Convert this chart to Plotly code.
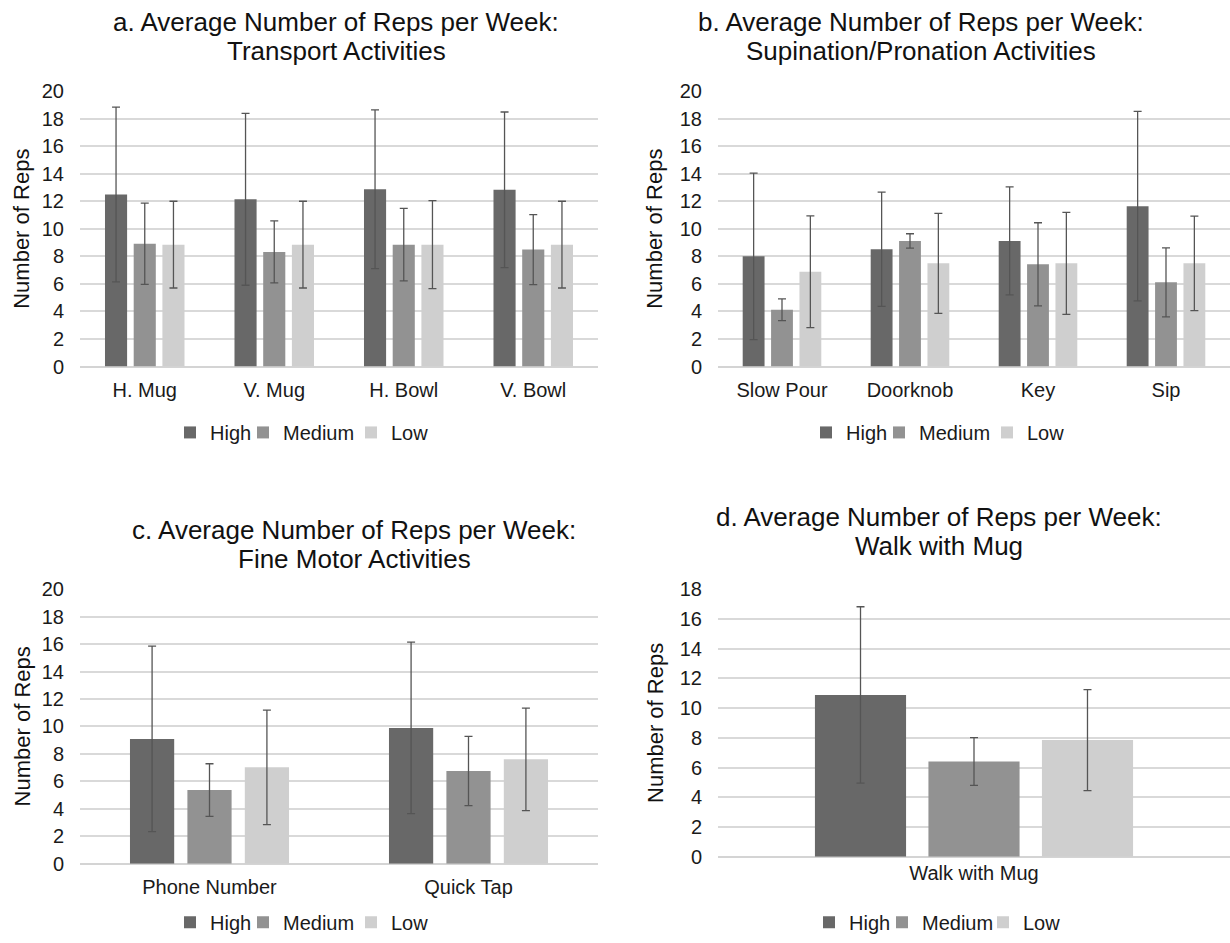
import plotly.graph_objects as go

# ---------------- data ----------------
series = ["High", "Medium", "Low"]
colors = ["#686868", "#929292", "#cfcfcf"]

cat_a = ["H. Mug", "V. Mug", "H. Bowl", "V. Bowl"]
high_a = [12.49, 12.14, 12.87, 12.83]
high_a_err = [6.35, 6.24, 5.76, 5.65]
med_a = [8.92, 8.32, 8.85, 8.49]
med_a_err = [2.95, 2.25, 2.63, 2.54]
low_a = [8.85, 8.85, 8.85, 8.85]
low_a_err = [3.15, 3.15, 3.2, 3.15]

cat_b = ["Slow Pour", "Doorknob", "Key", "Sip"]
high_b = [8.0, 8.51, 9.12, 11.64]
high_b_err = [6.05, 4.15, 3.92, 6.88]
med_b = [4.12, 9.12, 7.42, 6.11]
med_b_err = [0.79, 0.52, 3.02, 2.51]
low_b = [6.88, 7.49, 7.49, 7.49]
low_b_err = [4.06, 3.63, 3.71, 3.43]

cat_c = ["Phone Number", "Quick Tap"]
high_c = [9.09, 9.89]
high_c_err = [6.76, 6.25]
med_c = [5.36, 6.75]
med_c_err = [1.92, 2.52]
low_c = [7.02, 7.6]
low_c_err = [4.17, 3.73]

cat_d = ["Walk with Mug"]
high_d = [10.89]
high_d_err = [5.93]
med_d = [6.41]
med_d_err = [1.61]
low_d = [7.85]
low_d_err = [3.4]

title_a = ["a. Average Number of Reps per Week:", "Transport Activities"]
title_b = ["b. Average Number of Reps per Week:", "Supination/Pronation Activities"]
title_c = ["c. Average Number of Reps per Week:", "Fine Motor Activities"]
title_d = ["d. Average Number of Reps per Week:", "Walk with Mug"]
y_title = "Number of Reps"

# ---------------- figure ----------------
FONT = "Liberation Sans, Arial, sans-serif"
W, H = 1230, 943
fig = go.Figure()

panels = [
    dict(cats=cat_a, vals=[high_a, med_a, low_a], errs=[high_a_err, med_a_err, low_a_err],
         ax="", ymax=20, title=title_a, barw=None),
    dict(cats=cat_b, vals=[high_b, med_b, low_b], errs=[high_b_err, med_b_err, low_b_err],
         ax="2", ymax=20, title=title_b, barw=None),
    dict(cats=cat_c, vals=[high_c, med_c, low_c], errs=[high_c_err, med_c_err, low_c_err],
         ax="3", ymax=20, title=title_c, barw=None),
    dict(cats=cat_d, vals=[high_d, med_d, low_d], errs=[high_d_err, med_d_err, low_d_err],
         ax="4", ymax=18, title=title_d, barw=0.178),
]

def px_x(v):
    return v / W

def px_y(v):
    return 1 - v / H

# pixel-based placement of each panel
geo = {
    "": dict(x=(80, 598), y=(82, 364), tys=(11.3, 40.6), tx=336,
             lxs=(170, 243, 351), ly=431.5, stand=9, yt=22),
    "2": dict(x=(718, 1230), y=(82, 364), tys=(11.3, 40.6), tx=921,
              lxs=(806, 879, 987), ly=431.5, stand=9, yt=655),
    "3": dict(x=(80, 598), y=(592, 873), tys=(531.5, 560.8), tx=354,
              lxs=(170, 243, 351), ly=933, stand=9, yt=22),
    "4": dict(x=(718, 1230), y=(592, 866), tys=(518.3, 547.6), tx=939,
              lxs=(809, 882, 983), ly=933, stand=2, yt=656),
}

layout = dict(
    width=W, height=H, margin=dict(l=0, r=0, t=0, b=0),
    paper_bgcolor="white", plot_bgcolor="white", showlegend=True,
    barmode="group", bargap=0.335, bargroupgap=0.23,
    font=dict(family=FONT, color="#1a1a1a", size=20),
    annotations=[],
)

leg_idx = 0
for p in panels:
    a = p["ax"]
    g = geo[a]
    for i, (name, col, v, e) in enumerate(zip(series, colors, p["vals"], p["errs"])):
        leg_idx += 1
        leg = "legend" if leg_idx == 1 else f"legend{leg_idx}"
        bar_kw = {}
        if p["barw"] is not None:
            bar_kw["width"] = p["barw"]
        fig.add_trace(go.Bar(
            x=p["cats"], y=v, name=name, marker=dict(color=col, line=dict(width=0)),
            error_y=dict(type="data", array=e, symmetric=True, color="#555555",
                         thickness=1.3, width=4),
            xaxis="x" + a, yaxis="y" + a, legend=leg, showlegend=True, **bar_kw,
        ))
        layout[leg] = dict(
            orientation="h", x=px_x(g["lxs"][i]), y=px_y(g["ly"]),
            xanchor="left", yanchor="middle", xref="paper", yref="paper",
            font=dict(size=20, color="#1a1a1a"), itemwidth=30,
            bgcolor="rgba(0,0,0,0)", visible=True,
        )

    layout["xaxis" + a] = dict(
        domain=[px_x(g["x"][0]), px_x(g["x"][1])], anchor="y" + a,
        showgrid=False, showline=False, zeroline=False, ticks="",
        tickfont=dict(size=20, color="#1a1a1a"), ticklabelstandoff=g["stand"],
    )
    layout["yaxis" + a] = dict(
        domain=[px_y(g["y"][1]), px_y(g["y"][0])], anchor="x" + a,
        range=[0, p["ymax"]], dtick=2, tick0=0,
        showgrid=True, gridcolor="#d9d9d9", gridwidth=1.5,
        zeroline=True, zerolinecolor="#d4d4d4", zerolinewidth=1.5,
        showline=False, ticks="", tickfont=dict(size=20, color="#1a1a1a"),
        ticklabelstandoff=15,
    )
    # chart title (two lines)
    for line, yy in zip(p["title"], g["tys"]):
        layout["annotations"].append(dict(
            text=line, x=px_x(g["tx"]), y=px_y(yy), xref="paper", yref="paper",
            xanchor="center", yanchor="middle", showarrow=False,
            font=dict(size=26, color="#111111", family=FONT),
        ))
    # y-axis title
    layout["annotations"].append(dict(
        text=y_title, x=px_x(g["yt"]), y=0.5, xref="paper", yref="y" + a + " domain",
        xanchor="center", yanchor="middle", showarrow=False, textangle=-90,
        font=dict(size=22, color="#111111", family=FONT),
    ))

fig.update_layout(**layout)

# pin the graph to the top-left corner of the page (no default body margin)
pin = (
    "document.documentElement.style.margin='0';"
    "document.body.style.margin='0';document.body.style.padding='0';"
    "document.body.style.overflow='hidden';"
    "var gd=document.getElementById('{plot_id}');"
    "gd.style.position='fixed';gd.style.left='0px';gd.style.top='0px';"
)
fig.write_html("out.html", post_script=pin, config={"displayModeBar": False})
